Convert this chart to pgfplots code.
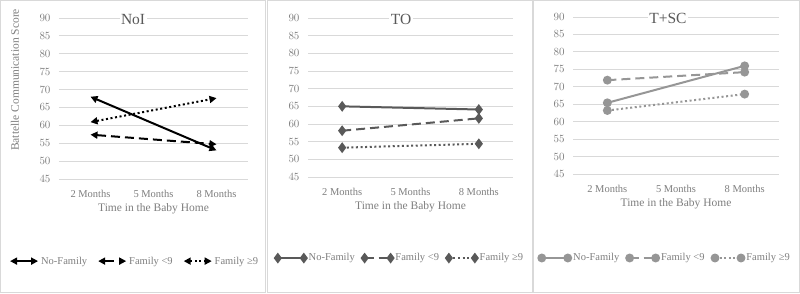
\documentclass[border=0pt]{standalone}
\usepackage{pgfplots}
\pgfplotsset{compat=1.18}
\usepackage{fontspec}
\setmainfont{Liberation Serif}
\usetikzlibrary{arrows.meta}
\definecolor{txt}{HTML}{7F7F7F}
\definecolor{ttl}{HTML}{595959}
\definecolor{grd}{HTML}{D9D9D9}
\definecolor{frm}{HTML}{D9D9D9}
\definecolor{cTO}{HTML}{595959}
\definecolor{cTS}{HTML}{969696}
\pgfplotsset{
  every axis title shift=0pt,
  panel/.style={
    scale only axis,
    xmin=-0.5, xmax=2.5,
    ymin=45, ymax=90,
    xtick={0,1,2},
    xticklabels={2 Months,5 Months,8 Months},
    ytick={45,50,...,90},
    ymajorgrids,
    major grid style={grd, line width=0.8pt},
    axis line style={draw=none},
    tick style={draw=none},
    ticklabel style={font=\fontsize{10.5}{12}\selectfont, text=txt},
    yticklabel style={xshift=-5pt},
    xticklabel style={yshift=-8pt},
    xlabel={Time in the Baby Home},
    xlabel style={font=\fontsize{11.5}{13}\selectfont, text=txt, at={(axis description cs:0.5,0)}, anchor=center, yshift=-30pt},
    title style={font=\fontsize{15.5}{17}\selectfont, text=ttl, fill=white, inner sep=1.5pt, anchor=center},
    clip=false,
    legend style={draw=none, fill=none, font=\fontsize{10.5}{12}\selectfont, text=txt, legend columns=3, anchor=center,
      /tikz/every even column/.append style={column sep=5pt}, inner sep=0pt},
    legend cell align=left,
  },
  arrowleg/.style={legend image code/.code={\draw[##1] (0pt,0pt) -- (28pt,0pt);}},
  markleg/.style={legend image code/.code={\draw[##1] plot coordinates {(0pt,0pt) (26pt,0pt)};}},
}
\begin{document}
\begin{tikzpicture}
\fill[white] (0pt,0pt) rectangle (800pt,293pt);
\draw[frm, line width=0.8pt] (0.5pt,0.5pt) rectangle (265.5pt,292.5pt);
\draw[frm, line width=0.8pt] (267.5pt,0.5pt) rectangle (532pt,292.5pt);
\draw[frm, line width=0.8pt] (533pt,0.5pt) rectangle (799.5pt,292.5pt);

% Panel 1: NoI
\begin{axis}[panel, at={(59pt,114pt)}, anchor=south west, width=189pt, height=161pt,
  title={NoI}, title style={at={(axis description cs:0.392,0.99)}},
  ylabel={Battelle Communication Score},
  ylabel style={font=\fontsize{11.5}{13}\selectfont, text=txt, at={(axis description cs:-0.233,0.615)}, anchor=center},
  legend style={at={(axis description cs:0.40,-0.51)}, /tikz/every even column/.append style={column sep=8pt}},
  arrowleg]
\addplot[black, line width=2pt, {Triangle[width=7pt,length=7pt]}-{Triangle[width=7pt,length=7pt]}] coordinates {(0,68) (2,53)};
\addlegendentry{No-Family}
\addplot[black, line width=2pt, dash pattern=on 9pt off 5pt, {Triangle[width=7pt,length=7pt]}-{Triangle[width=7pt,length=7pt]}] coordinates {(0,57.4) (2,54.7)};
\addlegendentry{Family <9}
\addplot[black, line width=2pt, dash pattern=on 2pt off 2.6pt, {Triangle[width=7pt,length=7pt]}-{Triangle[width=7pt,length=7pt]}] coordinates {(0,60.9) (2,67.6)};
\addlegendentry{Family ≥9}
\end{axis}

% Panel 2: TO
\begin{axis}[panel, at={(308pt,116pt)}, anchor=south west, width=205pt, height=159pt,
  title={TO}, title style={at={(axis description cs:0.454,0.99)}},
  legend style={at={(axis description cs:0.449,-0.51)}},
  markleg]
\addplot[cTO, line width=2pt, mark=diamond*, mark size=3.8pt, mark options={solid}] coordinates {(0,65) (2,64.1)};
\addlegendentry{No-Family}
\addplot[cTO, line width=2pt, dash pattern=on 9pt off 5pt, mark=diamond*, mark size=3.8pt, mark options={solid}] coordinates {(0,58.1) (2,61.6)};
\addlegendentry{Family <9}
\addplot[cTO, line width=2pt, dash pattern=on 2pt off 2.6pt, mark=diamond*, mark size=3.8pt, mark options={solid}] coordinates {(0,53.3) (2,54.4)};
\addlegendentry{Family ≥9}
\end{axis}

% Panel 3: T+SC
\begin{axis}[panel, at={(573pt,119pt)}, anchor=south west, width=206pt, height=157pt,
  title={T+SC}, title style={at={(axis description cs:0.461,0.99)}},
  legend style={at={(axis description cs:0.447,-0.535)}},
  markleg]
\addplot[cTS, line width=2pt, mark=*, mark size=3.4pt, mark options={solid}] coordinates {(0,65.4) (2,76)};
\addlegendentry{No-Family}
\addplot[cTS, line width=2pt, dash pattern=on 9pt off 5pt, mark=*, mark size=3.4pt, mark options={solid}] coordinates {(0,71.9) (2,74.2)};
\addlegendentry{Family <9}
\addplot[cTS, line width=2pt, dash pattern=on 2pt off 2.6pt, mark=*, mark size=3.4pt, mark options={solid}] coordinates {(0,63.2) (2,67.9)};
\addlegendentry{Family ≥9}
\end{axis}
\end{tikzpicture}
\end{document}
